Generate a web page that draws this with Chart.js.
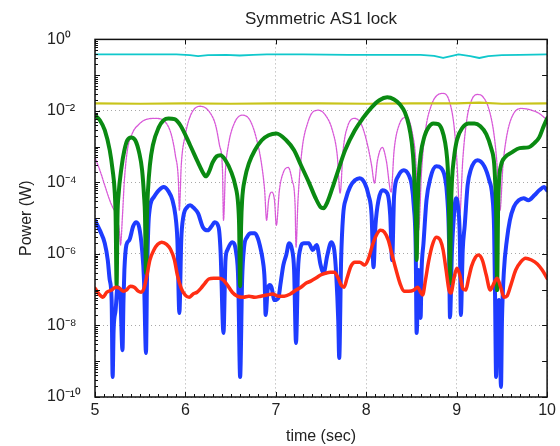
<!DOCTYPE html>
<html><head><meta charset="utf-8">
<script src="https://cdn.jsdelivr.net/npm/chart.js@4.4.1/dist/chart.umd.min.js"></script>
<style>html,body{margin:0;padding:0;background:#fff;}canvas{display:block;}</style>
</head><body>
<canvas id="c" width="560" height="446"></canvas>
<script>
// x tick values (seconds) and y tick exponents (power = 10^exp W)
const xTicks = [5, 6, 7, 8, 9, 10];
const yTickExponents = [0, -2, -4, -6, -8, -10];

// Each series: [time (sec), log10(power in W)]
const cyan = [[5.00,-0.42],[5.50,-0.42],[5.90,-0.42],[6.05,-0.44],[6.14,-0.47],[6.25,-0.44],[6.45,-0.43],[6.60,-0.45],[6.75,-0.43],[6.90,-0.42],[7.30,-0.42],[7.80,-0.43],[8.30,-0.43],[8.60,-0.43],[8.75,-0.46],[8.85,-0.52],[8.95,-0.46],[9.02,-0.42],[9.15,-0.47],[9.25,-0.52],[9.35,-0.47],[9.50,-0.44],[9.70,-0.43],[10.00,-0.42]];

const yellow = [[5.0,-1.79],[5.5,-1.80],[6.0,-1.79],[6.5,-1.80],[7.0,-1.79],[7.5,-1.79],[8.0,-1.80],[8.5,-1.79],[9.0,-1.79],[9.25,-1.77],[9.5,-1.80],[10.0,-1.79]];

const magenta = [[5.000,-3.30],[5.054,-3.66],[5.108,-4.08],[5.163,-4.50],[5.195,-4.69],[5.239,-4.94],[5.271,-5.39],[5.282,-5.75],[5.304,-4.92],[5.325,-3.94],[5.358,-3.10],[5.412,-2.63],[5.488,-2.37],[5.575,-2.23],[5.672,-2.21],[5.781,-2.32],[5.846,-2.68],[5.889,-3.24],[5.922,-3.94],[5.933,-4.78],[5.954,-3.52],[5.998,-2.68],[6.063,-2.09],[6.171,-1.87],[6.269,-2.04],[6.334,-2.40],[6.377,-2.96],[6.410,-3.66],[6.421,-5.06],[6.443,-3.66],[6.475,-2.96],[6.540,-2.35],[6.627,-2.12],[6.714,-2.26],[6.790,-2.82],[6.844,-3.52],[6.876,-4.22],[6.898,-5.06],[6.920,-4.50],[6.952,-4.27],[6.985,-4.50],[7.006,-5.20],[7.039,-4.22],[7.083,-3.72],[7.137,-3.58],[7.180,-3.94],[7.213,-4.64],[7.223,-5.81],[7.245,-4.50],[7.289,-3.10],[7.354,-2.32],[7.419,-2.01],[7.473,-1.98],[7.549,-2.12],[7.625,-2.54],[7.679,-3.24],[7.711,-4.30],[7.744,-3.10],[7.798,-2.40],[7.874,-2.21],[7.950,-2.40],[8.015,-2.96],[8.059,-3.52],[8.091,-4.02],[8.124,-3.38],[8.178,-3.02],[8.221,-3.38],[8.275,-4.27],[8.308,-3.10],[8.362,-2.40],[8.449,-2.18],[8.514,-2.68],[8.547,-3.38],[8.579,-5.34],[8.612,-3.66],[8.655,-2.54],[8.720,-1.84],[8.796,-1.54],[8.850,-1.51],[8.915,-1.70],[8.970,-2.40],[9.002,-3.38],[9.035,-4.86],[9.067,-3.38],[9.111,-2.26],[9.165,-1.70],[9.230,-1.54],[9.295,-1.62],[9.360,-1.98],[9.414,-2.68],[9.447,-3.52],[9.479,-4.78],[9.512,-3.52],[9.555,-2.68],[9.620,-2.12],[9.718,-1.93],[9.827,-1.98],[9.913,-2.07],[10.000,-2.26]];

const green = [[5.000,-2.12],[5.054,-2.26],[5.108,-2.54],[5.163,-3.10],[5.195,-3.66],[5.217,-4.22],[5.228,-4.92],[5.239,-6.90],[5.249,-4.92],[5.260,-4.36],[5.293,-3.58],[5.325,-3.10],[5.358,-2.82],[5.401,-2.74],[5.445,-2.82],[5.488,-3.16],[5.521,-3.66],[5.542,-4.36],[5.553,-4.92],[5.564,-6.54],[5.575,-4.92],[5.586,-4.22],[5.607,-3.52],[5.640,-2.96],[5.705,-2.46],[5.759,-2.26],[5.813,-2.21],[5.879,-2.23],[5.944,-2.40],[6.052,-2.96],[6.139,-3.44],[6.193,-3.72],[6.226,-3.83],[6.258,-3.72],[6.301,-3.44],[6.345,-3.27],[6.388,-3.24],[6.443,-3.38],[6.508,-3.72],[6.551,-4.08],[6.584,-4.64],[6.594,-5.20],[6.605,-6.90],[6.616,-5.20],[6.627,-4.50],[6.659,-3.88],[6.703,-3.46],[6.768,-3.10],[6.844,-2.82],[6.920,-2.68],[7.006,-2.63],[7.115,-2.82],[7.202,-3.10],[7.278,-3.52],[7.364,-3.99],[7.440,-4.44],[7.495,-4.69],[7.527,-4.72],[7.570,-4.55],[7.625,-4.16],[7.690,-3.66],[7.766,-3.10],[7.874,-2.54],[7.961,-2.21],[8.059,-1.90],[8.145,-1.70],[8.232,-1.62],[8.308,-1.68],[8.373,-1.82],[8.427,-2.04],[8.471,-2.40],[8.503,-2.88],[8.525,-3.52],[8.536,-4.22],[8.547,-4.92],[8.557,-6.17],[8.568,-4.78],[8.579,-3.94],[8.601,-3.24],[8.644,-2.71],[8.688,-2.46],[8.742,-2.35],[8.796,-2.37],[8.839,-2.54],[8.872,-2.88],[8.894,-3.32],[8.905,-3.80],[8.915,-4.78],[8.926,-6.82],[8.937,-4.78],[8.948,-3.94],[8.970,-3.32],[9.002,-2.82],[9.067,-2.46],[9.132,-2.35],[9.197,-2.35],[9.262,-2.43],[9.327,-2.65],[9.381,-3.04],[9.414,-3.46],[9.425,-3.94],[9.436,-4.78],[9.447,-7.01],[9.458,-4.78],[9.469,-3.94],[9.490,-3.52],[9.534,-3.30],[9.610,-3.16],[9.696,-3.04],[9.794,-3.02],[9.859,-2.90],[9.913,-2.74],[9.957,-2.46],[10.000,-2.21]];

const blue = [[5.000,-5.06],[5.054,-5.34],[5.108,-5.70],[5.141,-6.17],[5.163,-6.73],[5.184,-7.29],[5.195,-9.44],[5.206,-8.13],[5.228,-7.57],[5.249,-6.93],[5.271,-7.01],[5.282,-7.29],[5.304,-8.69],[5.315,-7.29],[5.325,-6.45],[5.347,-5.75],[5.380,-5.61],[5.423,-5.22],[5.456,-5.11],[5.488,-5.25],[5.521,-5.89],[5.542,-6.73],[5.564,-8.77],[5.575,-6.73],[5.597,-4.92],[5.651,-4.41],[5.705,-4.22],[5.759,-4.13],[5.813,-4.25],[5.857,-4.50],[5.889,-4.92],[5.911,-5.61],[5.933,-7.65],[5.954,-5.61],[5.976,-4.97],[6.020,-4.69],[6.052,-4.64],[6.095,-4.72],[6.139,-4.86],[6.193,-5.25],[6.247,-5.34],[6.291,-5.22],[6.323,-5.11],[6.367,-5.25],[6.388,-5.89],[6.421,-8.21],[6.443,-6.17],[6.464,-5.89],[6.518,-5.67],[6.562,-5.98],[6.584,-6.73],[6.605,-9.44],[6.627,-6.73],[6.649,-5.81],[6.681,-5.53],[6.725,-5.42],[6.768,-5.42],[6.801,-5.56],[6.822,-5.75],[6.855,-6.17],[6.876,-6.73],[6.887,-7.71],[6.909,-7.01],[6.931,-6.87],[6.952,-6.93],[6.985,-7.29],[7.028,-7.23],[7.050,-6.87],[7.083,-6.31],[7.115,-6.03],[7.147,-5.70],[7.180,-5.89],[7.202,-6.45],[7.223,-8.49],[7.245,-6.45],[7.267,-5.89],[7.310,-5.70],[7.364,-5.70],[7.408,-5.89],[7.451,-5.75],[7.495,-6.31],[7.527,-6.54],[7.570,-6.03],[7.614,-5.67],[7.646,-5.89],[7.668,-6.59],[7.690,-7.85],[7.701,-8.91],[7.722,-6.17],[7.744,-4.92],[7.777,-4.44],[7.820,-4.13],[7.874,-3.94],[7.928,-3.88],[7.983,-4.02],[8.026,-4.36],[8.059,-4.92],[8.080,-6.37],[8.102,-5.20],[8.135,-4.50],[8.178,-4.22],[8.232,-4.30],[8.265,-4.92],[8.286,-6.17],[8.308,-4.36],[8.352,-3.83],[8.416,-3.66],[8.471,-3.80],[8.503,-4.08],[8.525,-4.64],[8.547,-5.89],[8.557,-8.21],[8.579,-6.45],[8.590,-7.01],[8.601,-7.79],[8.612,-6.45],[8.633,-5.70],[8.666,-4.50],[8.709,-3.88],[8.774,-3.55],[8.829,-3.60],[8.872,-3.88],[8.894,-4.36],[8.915,-5.61],[8.926,-7.77],[8.948,-5.89],[8.970,-4.92],[8.991,-4.44],[9.013,-4.64],[9.035,-5.61],[9.046,-7.71],[9.067,-5.89],[9.089,-5.20],[9.121,-4.08],[9.154,-3.66],[9.230,-3.38],[9.306,-3.55],[9.360,-3.94],[9.393,-4.36],[9.414,-5.34],[9.425,-7.29],[9.436,-9.44],[9.447,-7.85],[9.469,-7.29],[9.490,-9.72],[9.501,-7.85],[9.523,-6.45],[9.555,-5.61],[9.588,-5.06],[9.631,-4.69],[9.686,-4.50],[9.740,-4.44],[9.794,-4.50],[9.859,-4.36],[9.913,-4.22],[9.967,-4.13],[10.000,-4.22]];

const red = [[5.000,-6.96],[5.043,-7.12],[5.087,-7.21],[5.130,-7.07],[5.184,-7.01],[5.228,-6.93],[5.271,-6.96],[5.315,-7.04],[5.347,-7.01],[5.390,-6.90],[5.434,-6.93],[5.477,-7.04],[5.510,-7.07],[5.542,-6.96],[5.575,-6.59],[5.607,-6.17],[5.651,-5.89],[5.694,-5.73],[5.738,-5.67],[5.792,-5.73],[5.835,-5.87],[5.879,-6.17],[5.911,-6.59],[5.954,-6.96],[5.998,-7.15],[6.041,-7.21],[6.085,-7.12],[6.128,-7.07],[6.171,-6.96],[6.215,-6.82],[6.258,-6.70],[6.312,-6.68],[6.367,-6.68],[6.421,-6.73],[6.464,-6.87],[6.518,-7.07],[6.573,-7.18],[6.638,-7.21],[6.703,-7.18],[6.768,-7.21],[6.833,-7.18],[6.898,-7.15],[6.963,-7.12],[7.028,-7.18],[7.093,-7.18],[7.159,-7.12],[7.223,-7.01],[7.278,-6.93],[7.332,-6.82],[7.386,-6.76],[7.440,-6.68],[7.495,-6.59],[7.549,-6.54],[7.603,-6.51],[7.646,-6.51],[7.690,-6.68],[7.722,-6.87],[7.755,-6.93],[7.787,-6.68],[7.831,-6.34],[7.874,-6.23],[7.928,-6.23],[7.983,-6.31],[8.026,-6.12],[8.069,-5.75],[8.113,-5.47],[8.156,-5.34],[8.200,-5.39],[8.243,-5.61],[8.286,-6.03],[8.330,-6.45],[8.373,-6.82],[8.416,-7.04],[8.471,-7.04],[8.525,-7.01],[8.568,-6.93],[8.601,-7.07],[8.623,-7.15],[8.655,-6.73],[8.688,-6.23],[8.731,-5.75],[8.774,-5.53],[8.818,-5.61],[8.850,-5.89],[8.883,-6.45],[8.915,-7.01],[8.937,-7.09],[8.970,-6.68],[9.002,-6.40],[9.035,-6.59],[9.067,-6.96],[9.100,-7.01],[9.132,-6.68],[9.165,-6.34],[9.208,-6.09],[9.241,-6.03],[9.284,-6.17],[9.327,-6.59],[9.371,-7.01],[9.403,-6.87],[9.447,-6.68],[9.490,-6.96],[9.523,-7.21],[9.555,-7.18],[9.599,-6.87],[9.653,-6.45],[9.707,-6.23],[9.762,-6.12],[9.827,-6.17],[9.892,-6.28],[9.946,-6.45],[10.000,-6.68]];

const FONT = "'Liberation Sans', Arial, Helvetica, sans-serif";
const SUP = {'0':'⁰','1':'¹','2':'²','3':'³','4':'⁴','5':'⁵','6':'⁶','7':'⁷','8':'⁸','9':'⁹','-':'⁻'};
const supText = n => String(n).split('').map(c => SUP[c]).join('');
const toPoints = arr => arr.map(([t, e]) => ({x: t, y: Math.pow(10, e)}));

const framePlugin = {
  id: 'frame',
  afterDraw(chart) {
    const {ctx, chartArea: a, scales: {x, y}} = chart;
    ctx.save();
    ctx.strokeStyle = '#111';
    ctx.lineWidth = 1;
    ctx.beginPath();
    for (let e = -10; e < 0; e++) {
      for (let m = 1; m < 10; m++) {
        const py = Math.round(y.getPixelForValue(m * Math.pow(10, e))) + 0.5;
        const len = m === 1 ? 5 : 3;
        ctx.moveTo(a.left, py); ctx.lineTo(a.left + len, py);
        if (m === 1) { ctx.moveTo(a.right, py); ctx.lineTo(a.right - len, py); }
      }
    }
    for (let k = 0; k <= 50; k++) {
      const px = Math.round(x.getPixelForValue(5 + k / 10)) + 0.5;
      const major = k % 10 === 0;
      const len = major ? 5 : 3;
      ctx.moveTo(px, a.bottom); ctx.lineTo(px, a.bottom - len);
      if (major) { ctx.moveTo(px, a.top); ctx.lineTo(px, a.top + len); }
    }
    ctx.stroke();
    ctx.lineWidth = 1.5;
    ctx.strokeRect(a.left, a.top, a.right - a.left, a.bottom - a.top);
    ctx.restore();
  }
};

new Chart(document.getElementById('c').getContext('2d'), {
  type: 'line',
  data: {
    datasets: [
      {label: 'cyan', data: toPoints(cyan), borderColor: '#10c8cc', borderWidth: 1.8, order: 6},
      {label: 'yellow', data: toPoints(yellow), borderColor: '#c8c41a', borderWidth: 2.2, order: 4},
      {label: 'magenta', data: toPoints(magenta), borderColor: 'rgba(212,70,212,0.9)', borderWidth: 1.3, borderDash: [2, 1], cubicInterpolationMode: 'monotone', order: 5},
      {label: 'green', data: toPoints(green), borderColor: '#0a8a12', borderWidth: 4, cubicInterpolationMode: 'monotone', order: 2},
      {label: 'blue', data: toPoints(blue), borderColor: '#1e3cff', borderWidth: 4, cubicInterpolationMode: 'monotone', order: 3},
      {label: 'red', data: toPoints(red), borderColor: '#ff2e14', borderWidth: 3.5, cubicInterpolationMode: 'monotone', order: 1}
    ]
  },
  options: {
    responsive: false,
    animation: false,
    devicePixelRatio: 1,
    layout: {padding: {left: 47, right: 4, top: 0, bottom: 0}},
    elements: {
      point: {radius: 0},
      line: {tension: 0, borderJoinStyle: 'round', borderCapStyle: 'round', fill: false}
    },
    plugins: {
      legend: {display: false},
      tooltip: {enabled: false},
      title: {
        display: true, text: 'Symmetric AS1 lock', fullSize: false, color: '#222',
        font: {family: FONT, size: 17, weight: 'normal'}, padding: {top: 9, bottom: 10}
      }
    },
    scales: {
      x: {
        type: 'linear', min: 5, max: 10,
        afterBuildTicks: s => { s.ticks = xTicks.map(v => ({value: v})); },
        afterFit: s => { s.height = 49; },
        ticks: {color: '#222', font: {family: FONT, size: 16}, padding: 4, maxRotation: 0, autoSkip: false},
        grid: {color: '#a8a8a8', lineWidth: 1, drawTicks: false},
        border: {display: false, dash: [1, 3]},
        title: {display: true, text: 'time (sec)', color: '#222', font: {family: FONT, size: 16}, padding: {top: 0, bottom: 0}}
      },
      y: {
        type: 'logarithmic', min: 1e-10, max: 1,
        afterBuildTicks: s => { s.ticks = yTickExponents.map(e => ({value: Math.pow(10, e)})); },
        afterFit: s => { s.width = 48; },
        ticks: {
          color: '#222', font: {family: FONT, size: 16}, crossAlign: 'far', autoSkip: false,
          callback: v => '10' + supText(Math.round(Math.log10(v)))
        },
        grid: {color: '#a8a8a8', lineWidth: 1, drawTicks: false},
        border: {display: false, dash: [1, 3]},
        title: {display: true, text: 'Power (W)', color: '#222', font: {family: FONT, size: 16}, padding: {top: -29.6, bottom: 0}}
      }
    }
  },
  plugins: [framePlugin]
});
</script>
</body></html>
